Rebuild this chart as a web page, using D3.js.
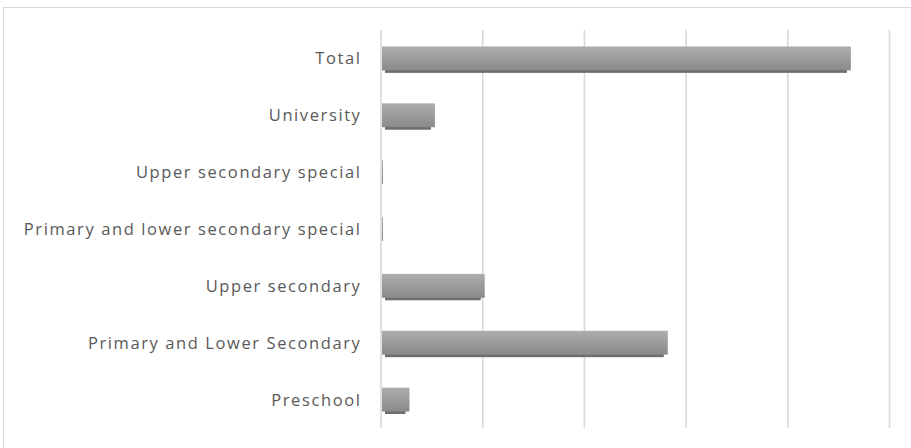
<!DOCTYPE html>
<html><head><meta charset="utf-8">
<script src="https://cdn.jsdelivr.net/npm/d3@7"></script>
<style>body{margin:0;background:#fff}svg{display:block}</style>
</head><body>
<svg id="c" width="911" height="448"></svg>
<script>
const categories = ["Total","University","Upper secondary special","Primary and lower secondary special","Upper secondary ","Primary and Lower Secondary","Preschool"];
const values = [4.61, 0.52, 0.01, 0.01, 1.01, 2.81, 0.27];
const gridTicks = [0,1,2,3,4,5];

const svg = d3.select("#c");
const W = 911, H = 448;
const m = {top:30, left:381, right:W-889.5, bottom:H-428};

svg.append("rect").attr("x",3.5).attr("y",7.5).attr("width",1000).attr("height",1000)
  .attr("fill","none").attr("stroke","#d9d9d9").attr("stroke-width",1);

const x = d3.scaleLinear().domain([0,5]).range([m.left, W-m.right]);
const y = d3.scaleBand().domain(categories).range([m.top, H-m.bottom]).paddingInner(0.58).paddingOuter(0.29);

const defs = svg.append("defs");
const g = defs.append("linearGradient").attr("id","bg").attr("x1",0).attr("y1",0).attr("x2",0).attr("y2",1);
g.append("stop").attr("offset","0%").attr("stop-color","#adadad");
g.append("stop").attr("offset","100%").attr("stop-color","#8a8a8a");

// gridlines
svg.append("g").selectAll("line").data(gridTicks).join("line")
  .attr("x1",d=>x(d)).attr("x2",d=>x(d)).attr("y1",m.top).attr("y2",H-m.bottom)
  .attr("stroke","#d9d9d9").attr("stroke-width",1.6);

// shadows
svg.append("g").selectAll("rect").data(categories).join("rect")
  .attr("x",(d,i)=>x(0)+4)
  .attr("y",d=>y(d)+2.5)
  .attr("width",(d,i)=>Math.max(0, x(values[i])-x(0)-7))
  .attr("height",y.bandwidth())
  .attr("fill","#6e6e6e");

// bars
svg.append("g").selectAll("rect").data(categories).join("rect")
  .attr("x",x(0)+1)
  .attr("y",d=>y(d))
  .attr("width",(d,i)=>Math.max(1, x(values[i])-x(0)))
  .attr("height",y.bandwidth())
  .attr("fill","url(#bg)");

// labels
svg.append("g").selectAll("text").data(categories).join("text")
  .attr("x",361.5).attr("y",d=>y(d)+y.bandwidth()/2)
  .attr("dy","0.36em").attr("text-anchor","end")
  .attr("font-family","Open Sans, sans-serif").attr("font-size",16.5)
  .attr("letter-spacing",1.6)
  .attr("fill","#595959").text(d=>d);
</script>
</body></html>
